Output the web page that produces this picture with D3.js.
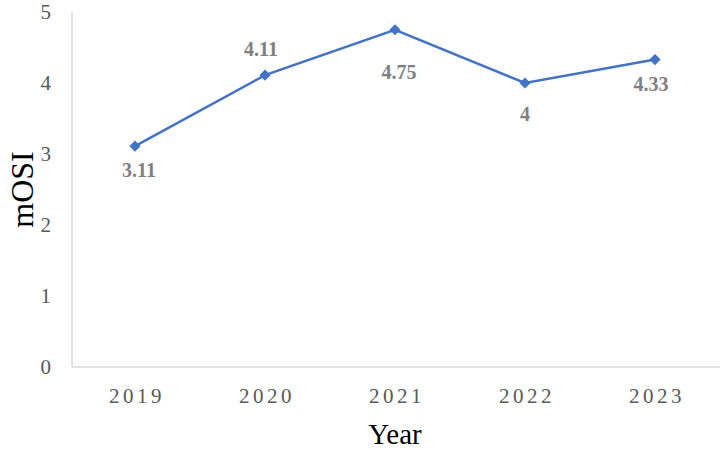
<!DOCTYPE html>
<html>
<head>
<meta charset="utf-8">
<script src="https://cdn.jsdelivr.net/npm/d3@7"></script>
<style>
  body { margin: 0; background: #fff; }
  text { font-family: "Liberation Serif", "Times New Roman", serif; }
</style>
</head>
<body>
<div id="chart"></div>
<script>
const years = ['2019', '2020', '2021', '2022', '2023'];
const mosi = [3.11, 4.11, 4.75, 4, 4.33];
const yTicks = [0, 1, 2, 3, 4, 5];

// where each data label sits relative to its point (layout, not data)
const labelOffsets = [[4, 24], [-4, -26], [4, 42], [0, 31], [-4, 24]];

const width = 722;
const height = 450;
const margin = { top: 12, right: 2, bottom: 83, left: 72 };

const svg = d3.select('#chart')
  .append('svg')
  .attr('width', width)
  .attr('height', height);

const x = d3.scaleBand()
  .domain(years)
  .range([margin.left - 2, width - margin.right]);

const y = d3.scaleLinear()
  .domain([0, 5])
  .range([height - margin.bottom, margin.top]);

const cx = d => x(d) + x.bandwidth() / 2;

// axis lines, light gray
svg.append('line')
  .attr('x1', margin.left).attr('x2', margin.left)
  .attr('y1', y(5)).attr('y2', y(0))
  .attr('stroke', '#d9d9d9').attr('stroke-width', 1.5);
svg.append('line')
  .attr('x1', margin.left).attr('x2', width - margin.right)
  .attr('y1', y(0)).attr('y2', y(0))
  .attr('stroke', '#d9d9d9').attr('stroke-width', 1.5);

// y tick labels
svg.append('g')
  .selectAll('text')
  .data(yTicks)
  .join('text')
  .attr('x', 51)
  .attr('y', d => y(d))
  .attr('dy', '0.35em')
  .attr('text-anchor', 'end')
  .attr('font-size', 21)
  .attr('fill', '#595959')
  .text(d => d);

// x tick labels (spaced out like the original)
svg.append('g')
  .selectAll('text')
  .data(years)
  .join('text')
  .attr('x', d => cx(d) + 2)
  .attr('y', 403)
  .attr('text-anchor', 'middle')
  .attr('font-size', 21)
  .attr('letter-spacing', 3.5)
  .attr('fill', '#595959')
  .text(d => d);

// axis titles
svg.append('text')
  .attr('x', 395)
  .attr('y', 444)
  .attr('text-anchor', 'middle')
  .attr('font-size', 29)
  .attr('fill', '#000')
  .text('Year');

svg.append('text')
  .attr('transform', `translate(33, ${y(2.5)}) rotate(-90)`)
  .attr('text-anchor', 'middle')
  .attr('font-size', 32)
  .attr('fill', '#000')
  .text('mOSI');

const pts = years.map((yr, i) => ({ yr, v: mosi[i], off: labelOffsets[i] }));

const line = d3.line()
  .x(d => cx(d.yr))
  .y(d => y(d.v));

svg.append('path')
  .datum(pts)
  .attr('d', line)
  .attr('fill', 'none')
  .attr('stroke', '#4472c4')
  .attr('stroke-width', 2.5);

svg.append('g')
  .selectAll('path')
  .data(pts)
  .join('path')
  .attr('d', d3.symbol(d3.symbolDiamond2, 80))
  .attr('transform', d => `translate(${cx(d.yr)},${y(d.v)})`)
  .attr('fill', '#4472c4');

// data labels
svg.append('g')
  .selectAll('text')
  .data(pts)
  .join('text')
  .attr('x', d => cx(d.yr) + d.off[0])
  .attr('y', d => y(d.v) + d.off[1])
  .attr('dy', '0.35em')
  .attr('text-anchor', 'middle')
  .attr('font-size', 20)
  .attr('font-weight', 'bold')
  .attr('fill', '#7f7f7f')
  .text(d => d.v);
</script>
</body>
</html>
